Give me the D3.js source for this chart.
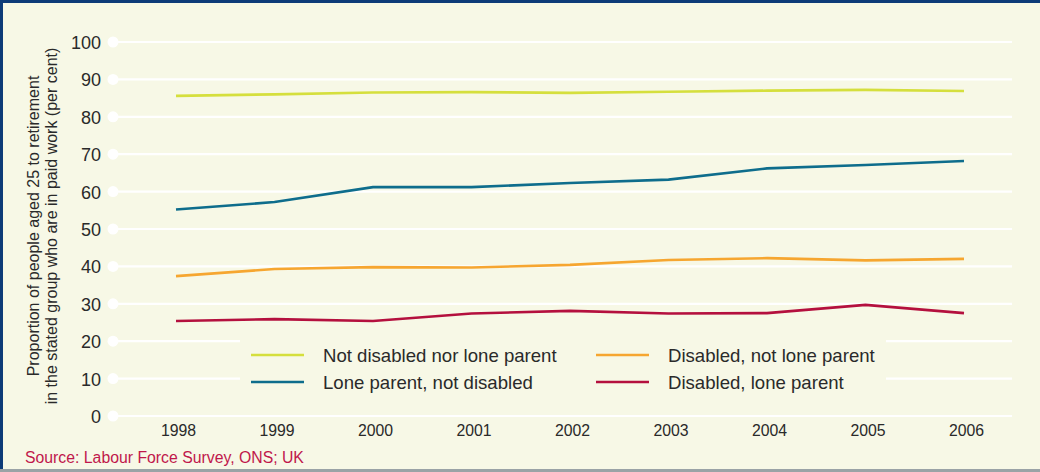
<!DOCTYPE html>
<html><head><meta charset="utf-8">
<script src="https://cdn.jsdelivr.net/npm/d3@7"></script>
<style>html,body{margin:0;padding:0;background:#f7f8e6;}svg{display:block;font-family:"Liberation Sans",Arial,sans-serif;}</style>
</head><body>
<svg id="c" width="1040" height="472"></svg>
<script>
const years = ["1998","1999","2000","2001","2002","2003","2004","2005","2006"];
const yTicks = [0,10,20,30,40,50,60,70,80,90,100];
const notDisabledNorLone = [85.6,86.0,86.5,86.6,86.4,86.7,87.0,87.2,86.9];
const loneNotDisabled = [55.2,57.2,61.2,61.2,62.3,63.2,66.2,67.1,68.2];
const disabledNotLone = [37.4,39.3,39.8,39.7,40.4,41.7,42.2,41.6,42.0];
const disabledLone = [25.4,25.9,25.4,27.4,28.1,27.4,27.5,29.7,27.5];
const seriesNames = ["Not disabled nor lone parent","Lone parent, not disabled","Disabled, not lone parent","Disabled, lone parent"];
const seriesColors = ["#d5df3d","#0e6d8c","#f6a630","#b4103e"];
const seriesData = [notDisabledNorLone, loneNotDisabled, disabledNotLone, disabledLone];

const svg = d3.select("#c");
svg.append("rect").attr("width",1040).attr("height",472).attr("fill","#f7f8e6");
// border
svg.append("rect").attr("x",0).attr("y",0).attr("width",1040).attr("height",3).attr("fill","#0d3b78");
svg.append("rect").attr("x",0).attr("y",0).attr("width",3).attr("height",472).attr("fill","#0d3b78");
svg.append("rect").attr("x",0).attr("y",469).attr("width",1040).attr("height",3).attr("fill","#9aa3a6");

const x = d3.scalePoint().domain(years).range([176,964]);
const y = d3.scaleLinear().domain([0,100]).range([416,42]);

// gridlines
const grid = svg.append("g");
grid.selectAll("line").data(yTicks).join("line")
  .attr("x1",113).attr("x2",1012).attr("y1",d=>y(d)).attr("y2",d=>y(d))
  .attr("stroke","#ffffff").attr("stroke-width",2.2);
grid.selectAll("circle").data(yTicks).join("circle")
  .attr("cx",113).attr("cy",d=>y(d)).attr("r",5.5).attr("fill","#ffffff");

// y axis labels
const yAxis = d3.axisLeft(y).tickValues(yTicks).tickSize(0).tickPadding(0);
const gy = svg.append("g").attr("transform","translate(101,0)").call(yAxis);
gy.select(".domain").remove();
gy.selectAll("text").attr("font-size",18).attr("fill","#2a2a2a").attr("font-family","Liberation Sans, Arial, sans-serif").attr("dy","0.36em");

// x axis labels
const xAxis = d3.axisBottom(x).tickSize(0).tickPadding(0);
const gx = svg.append("g").attr("transform","translate(2,425)").call(xAxis);
gx.select(".domain").remove();
gx.selectAll("text").attr("font-size",15.8).attr("fill","#2a2a2a").attr("font-family","Liberation Sans, Arial, sans-serif").attr("dy","0.71em");

// y title
const yt = svg.append("text").attr("transform","translate(0,226) rotate(-90)")
  .attr("text-anchor","middle").attr("font-size",16).attr("fill","#2a2a2a");
yt.append("tspan").attr("x",0).attr("y",39).text("Proportion of people aged 25 to retirement");
yt.append("tspan").attr("x",0).attr("y",57).text("in the stated group who are in paid work (per cent)");

// legend background
svg.append("rect").attr("x",240).attr("y",336).attr("width",646).attr("height",63).attr("fill","#f7f8e6");

// lines
const line = d3.line().x((d,i)=>x(years[i])).y(d=>y(d));
svg.append("g").selectAll("path").data(seriesData).join("path")
  .attr("d",d=>line(d)).attr("fill","none")
  .attr("stroke",(d,i)=>seriesColors[i]).attr("stroke-width",2.6);

// legend
const lx = [251,251,596,596], ly = [355,382,355,382];
const lg = svg.append("g");
seriesNames.forEach((n,i)=>{
  lg.append("line").attr("x1",lx[i]).attr("x2",lx[i]+53).attr("y1",ly[i]).attr("y2",ly[i])
    .attr("stroke",seriesColors[i]).attr("stroke-width",2.6);
  lg.append("text").attr("x",lx[i]+72).attr("y",ly[i]).attr("dy","0.35em")
    .attr("font-size",18.6).attr("fill","#2a2a2a").text(n);
});

// source
svg.append("text").attr("x",25).attr("y",463).attr("font-size",15.8).attr("fill","#c0174b")
  .text("Source: Labour Force Survey, ONS; UK");
</script>
</body></html>
